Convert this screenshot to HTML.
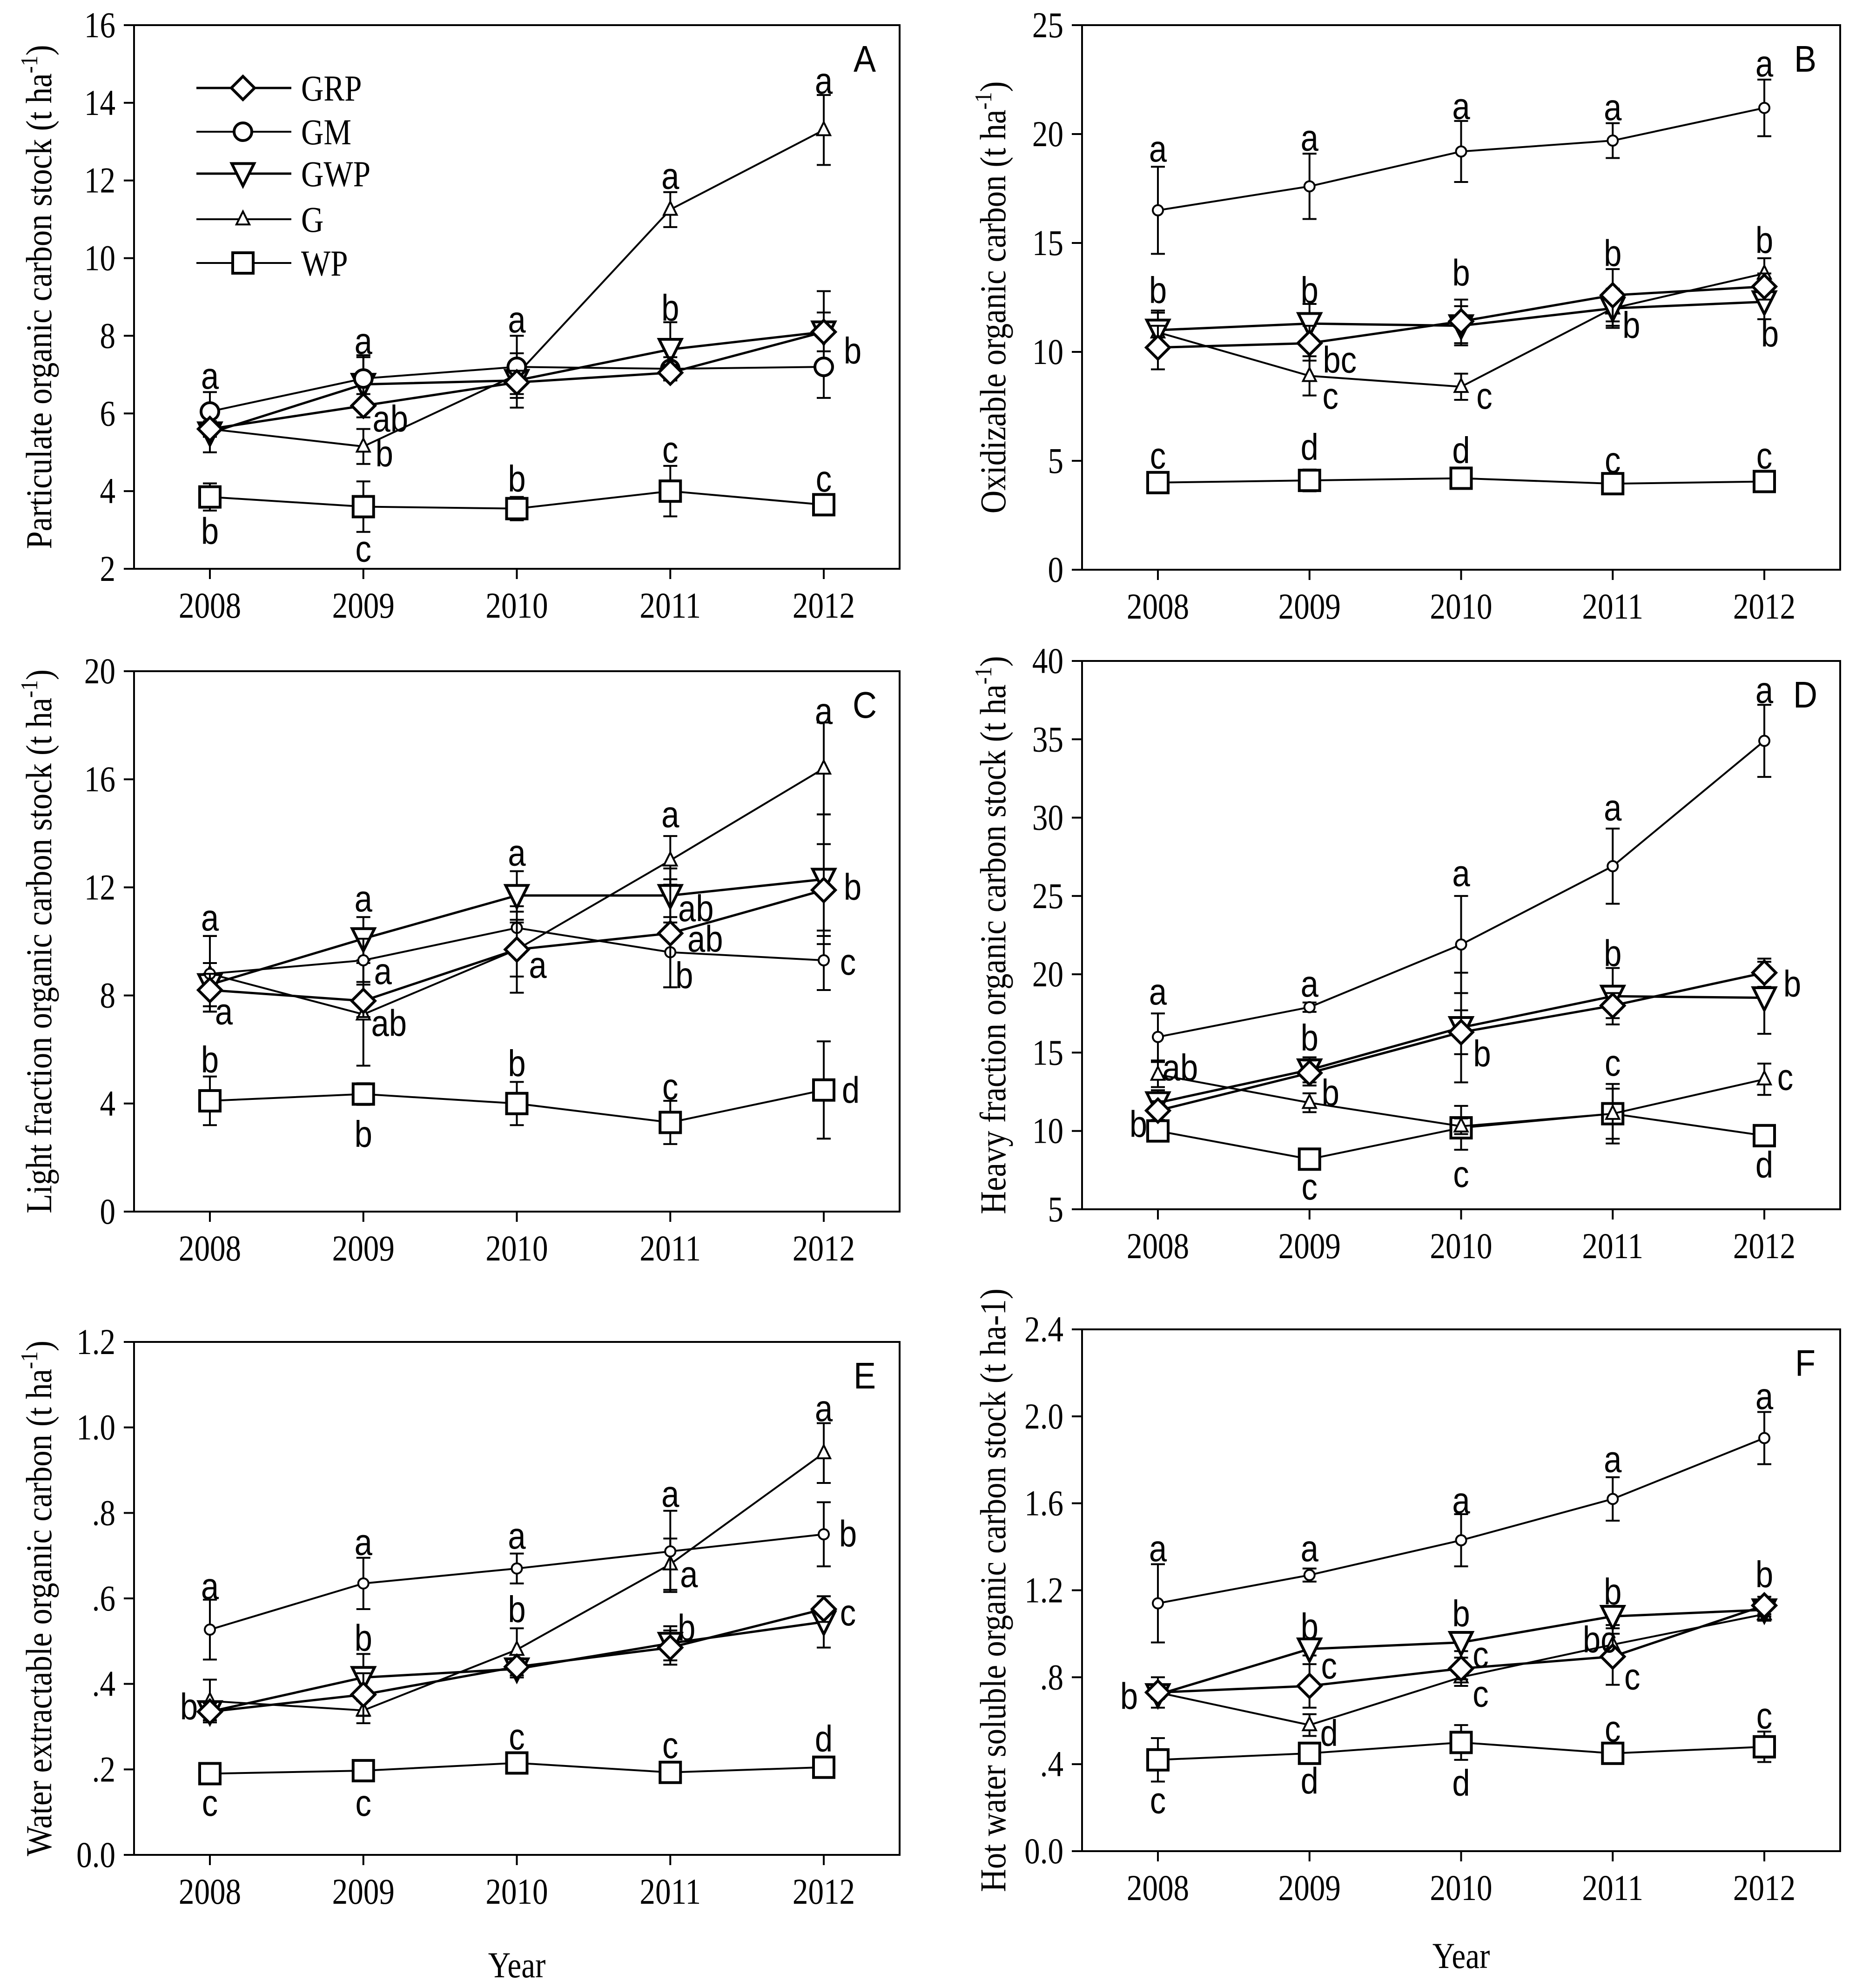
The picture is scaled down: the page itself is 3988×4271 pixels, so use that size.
<!DOCTYPE html>
<html><head><meta charset="utf-8"><style>
html,body{margin:0;padding:0;background:#fff;}
svg{display:block;}
</style></head><body>
<svg id="fig" xmlns="http://www.w3.org/2000/svg" width="3988" height="4271" viewBox="0 0 3988 4271"></svg>
<script>
const years = ["2008","2009","2010","2011","2012"];
const seriesNames = ["GRP","GM","GWP","G","WP"];

// Panel A
const aGRP=[5.6,6.2,6.8,7.05,8.1], aGM=[6.05,6.9,7.2,7.15,7.2], aGWP=[5.5,6.75,6.85,7.65,8.1], aG=[5.6,5.15,7.0,11.25,13.3], aWP=[3.85,3.6,3.55,4.0,3.65];
const aErrGRP=[0.2,0.3,0.3,0.2,0.5], aErrGM=[0.5,0.6,0.8,0.3,0.8], aErrGWP=[0.5,0.7,0.7,0.7,1.05], aErrG=[0.2,0.45,0.3,0.45,0.9], aErrWP=[0.35,0.65,0.3,0.65,0.1];
const aTicks=[2,4,6,8,10,12,14,16];
const aLetters=[[0,6.95,"a",0],[1,7.85,"a",0],[2,8.4,"a",0],[3,12.1,"a",0],[3,8.7,"b",0],[3,5.05,"c",0],[4,14.55,"a",0],[4,4.3,"c",0],[4,7.6,"b",62],[1,5.85,"ab",58],[1,4.95,"b",45],[0,2.95,"b",0],[1,2.5,"c",0],[2,4.3,"b",0]];
// Panel B
const bGRP=[10.2,10.4,11.4,12.6,13.0], bGM=[16.5,17.6,19.2,19.7,21.2], bGWP=[11.0,11.3,11.2,12.0,12.3], bG=[10.9,8.9,8.4,12.0,13.6], bWP=[4.0,4.1,4.2,3.95,4.05];
const bErrGRP=[1.0,0.8,1.0,1.2,0.6], bErrGM=[2.0,1.5,1.4,0.8,1.3], bErrGWP=[0.9,0.9,0.9,0.8,0.8], bErrG=[0.9,0.9,0.6,0.9,0.7], bErrWP=[0.3,0.5,0.3,0.3,0.3];
const bTicks=[0,5,10,15,20,25];
const bLetters=[[0,19.3,"a",0],[1,19.8,"a",0],[2,21.25,"a",0],[3,21.2,"a",0],[4,23.2,"a",0],[0,12.8,"b",0],[1,12.8,"b",0],[2,13.6,"b",0],[3,14.5,"b",0],[4,15.1,"b",0],[1,9.6,"bc",65],[1,7.95,"c",45],[2,7.95,"c",50],[3,11.2,"b",40],[4,10.8,"b",12],[0,5.2,"c",0],[1,5.6,"d",0],[2,5.45,"d",0],[3,5.0,"c",0],[4,5.2,"c",0]];
// Panel C
const cGRP=[8.2,7.8,9.7,10.3,11.9], cGM=[8.8,9.3,10.5,9.6,9.3], cGWP=[8.4,10.1,11.7,11.7,12.3], cG=[8.8,7.3,9.7,13.0,16.4], cWP=[4.1,4.35,4.0,3.3,4.5];
const cErrGRP=[0.6,0.6,1.6,2.0,1.7], cErrGM=[1.4,0.8,0.6,1.3,1.1], cErrGWP=[0.8,0.8,0.9,1.0,2.4], cErrG=[1.4,1.9,1.0,0.9,1.7], cErrWP=[0.9,0.4,0.8,0.8,1.8];
const cTicks=[0,4,8,12,16,20];
const cLetters=[[0,10.85,"a",0],[1,11.56,"a",0],[2,13.26,"a",0],[3,14.68,"a",0],[4,18.5,"a",0],[0,7.38,"a",30],[1,8.87,"a",42],[1,6.95,"ab",55],[2,9.1,"a",45],[3,11.2,"ab",55],[3,10.07,"ab",75],[3,8.72,"b",30],[4,11.99,"b",62],[4,9.22,"c",52],[0,5.6,"b",0],[1,2.84,"b",0],[2,5.46,"b",0],[3,4.6,"c",0],[4,4.47,"d",58]];
// Panel D
const dGRP=[11.3,13.7,16.3,18.0,20.1], dGM=[16.0,17.9,21.9,26.9,34.9], dGWP=[11.8,13.9,16.6,18.6,18.5], dG=[13.6,11.8,10.3,11.1,13.3], dWP=[10.0,8.2,10.2,11.1,9.7];
const dErrGRP=[0.6,0.8,1.4,0.8,0.9], dErrGM=[1.5,0.3,3.1,2.4,2.3], dErrGWP=[0.8,0.8,3.5,1.8,2.3], dErrG=[0.8,0.6,0.5,1.9,1.0], dErrWP=[0.3,0.6,1.4,1.6,0.4];
const dTicks=[5,10,15,20,25,30,35,40];
const dLetters=[[0,18.85,"a",0],[1,19.35,"a",0],[2,26.4,"a",0],[3,30.6,"a",0],[4,38.1,"a",0],[0,14.0,"ab",48],[0,10.4,"b",-42],[1,15.9,"b",0],[1,12.4,"b",45],[2,14.9,"b",45],[3,21.3,"b",0],[3,14.3,"c",0],[4,19.35,"b",60],[4,13.4,"c",45],[4,7.8,"d",0],[1,6.4,"c",0],[2,7.2,"c",0]];
// Panel E
const eGRP=[0.335,0.375,0.44,0.485,0.575], eGM=[0.527,0.635,0.67,0.71,0.75], eGWP=[0.335,0.415,0.435,0.495,0.545], eG=[0.36,0.338,0.48,0.68,0.94], eWP=[0.19,0.197,0.215,0.193,0.205];
const eErrGRP=[0.02,0.05,0.02,0.04,0.03], eErrGM=[0.07,0.06,0.035,0.095,0.075], eErrGWP=[0.02,0.055,0.02,0.04,0.06], eErrG=[0.05,0.03,0.05,0.06,0.07], eErrWP=[0.01,0.01,0.01,0.01,0.01];
const eTicks=[0,0.2,0.4,0.6,0.8,1.0,1.2];
const eTickLabels=["0.0",".2",".4",".6",".8","1.0","1.2"];
const eLetters=[[0,0.627,"a",0],[1,0.73,"a",0],[2,0.745,"a",0],[3,0.843,"a",0],[4,1.043,"a",0],[0,0.345,"b",-45],[1,0.506,"b",0],[2,0.573,"b",0],[3,0.655,"a",40],[3,0.53,"b",35],[4,0.75,"b",52],[4,0.565,"c",52],[2,0.275,"c",0],[3,0.255,"c",0],[4,0.27,"d",0],[0,0.12,"c",0],[1,0.12,"c",0]];
// Panel F
const fGRP=[0.73,0.76,0.84,0.895,1.13], fGM=[1.14,1.27,1.43,1.62,1.90], fGWP=[0.72,0.93,0.96,1.08,1.11], fG=[0.73,0.58,0.80,0.95,1.09], fWP=[0.42,0.45,0.50,0.45,0.48];
const fErrGRP=[0.07,0.1,0.05,0.13,0.04], fErrGM=[0.18,0.03,0.12,0.1,0.12], fErrGWP=[0.02,0.03,0.04,0.04,0.03], fErrG=[0.03,0.05,0.04,0.05,0.03], fErrWP=[0.1,0.03,0.08,0.02,0.07];
const fTicks=[0,0.4,0.8,1.2,1.6,2.0,2.4];
const fTickLabels=["0.0",".4",".8","1.2","1.6","2.0","2.4"];
const fLetters=[[0,1.39,"a",0],[1,1.39,"a",0],[2,1.61,"a",0],[3,1.80,"a",0],[4,2.09,"a",0],[1,1.03,"b",0],[2,1.09,"b",0],[3,1.19,"b",0],[4,1.27,"b",0],[0,0.71,"b",-62],[1,0.85,"c",42],[2,0.90,"c",42],[2,0.72,"c",42],[3,0.97,"bc",-28],[3,0.80,"c",42],[1,0.54,"d",42],[0,0.23,"c",0],[1,0.32,"d",0],[2,0.31,"d",0],[3,0.56,"c",0],[4,0.62,"c",0]];

const NS="http://www.w3.org/2000/svg";
const svg=document.getElementById('fig');
function mk(tag,attrs,parent){const e=document.createElementNS(NS,tag);for(const k in attrs)e.setAttribute(k,attrs[k]);(parent||svg).appendChild(e);return e;}

function marker(g,type,x,y,big){
  let e;
  if(type==="GRP"){const h=25;e=mk('polygon',{points:`${x},${y-h} ${x+h},${y} ${x},${y+h} ${x-h},${y}`,fill:'#fff',stroke:'#000','stroke-width':6},g);}
  else if(type==="GM"){e=mk('circle',{cx:x,cy:y,r:big?19:11,fill:'#fff',stroke:'#000','stroke-width':big?6:4},g);}
  else if(type==="GWP"){const h=24;e=mk('polygon',{points:`${x-h},${y-h*0.9} ${x+h},${y-h*0.9} ${x},${y+h*1.1}`,fill:'#fff',stroke:'#000','stroke-width':6},g);}
  else if(type==="G"){const h=14;e=mk('polygon',{points:`${x-h},${y+h*0.8} ${x+h},${y+h*0.8} ${x},${y-h*1.2}`,fill:'#fff',stroke:'#000','stroke-width':4},g);}
  else {const h=22;e=mk('rect',{x:x-h,y:y-h,width:2*h,height:2*h,fill:'#fff',stroke:'#000','stroke-width':6},g);}
  return e;
}
function txt(parent,x,y,s,size,family,anchor,sx){
  const t=mk('text',{transform:`translate(${x},${y}) scale(${sx||0.86},1)`,'font-size':size,'font-family':family,'text-anchor':anchor||'middle'},parent);
  t.textContent=s;return t;
}
const SERIF='"Liberation Serif", serif', SANS='"Liberation Sans", sans-serif';

function panel(cfg){
  const g=mk('g',{});
  
  
  const {L,R,T,B,min,max}=cfg;
  const yS=v=>B-(v-min)/(max-min)*(B-T);
  const xS=i=>L+163+i*(R-L-326)/4;
  const fr=mk('rect',{x:L,y:T,width:R-L,height:B-T,fill:'none',stroke:'#000','stroke-width':4},g);
  
  
  cfg.ticks.forEach((v,k)=>{
    const y=yS(v);
    mk('line',{x1:L-22,x2:L,y1:y,y2:y,stroke:'#000','stroke-width':4},g);
    const t=txt(g,L-40,y+26,cfg.tickLabels?cfg.tickLabels[k]:String(v),78,SERIF,'end');
    
    
  });
  years.forEach((yr,i)=>{
    const x=xS(i);
    mk('line',{x1:x,x2:x,y1:B,y2:B+22,stroke:'#000','stroke-width':4},g);
    const t=txt(g,x,B+105,yr,78,SERIF,'middle');
    
    
  });
  const tt=mk('text',{transform:`translate(${cfg.titleX},${(T+B)/2}) rotate(-90) scale(0.88,1)`,'font-size':78,'font-family':SERIF,'text-anchor':'middle'},g);
  
  
  tt.appendChild(document.createTextNode(cfg.title));
  if(cfg.sup){const ts=mk('tspan',{dy:-30,'font-size':52},tt);ts.textContent='-1';const t2=mk('tspan',{dy:30},tt);t2.textContent=')';}
  const pl=txt(g,R-75,T+100,cfg.id,80,SANS,'middle',0.9);
  
  
  const order=[["WP",cfg.WP,cfg.eWP],["G",cfg.G,cfg.eG],["GWP",cfg.GWP,cfg.eGWP],["GM",cfg.GM,cfg.eGM],["GRP",cfg.GRP,cfg.eGRP]];
  order.forEach(([name,vals,errs])=>{
    const sg=mk('g',{},g);
    
    
    const pl2=mk('polyline',{points:vals.map((v,i)=>xS(i)+','+yS(v)).join(' '),fill:'none',stroke:'#000','stroke-width':name==="GRP"||name==="GWP"?5:4},sg);
    
    
    vals.forEach((v,i)=>{
      const x=xS(i),y1=yS(v+errs[i]),y2=yS(v-errs[i]);
      mk('line',{x1:x,x2:x,y1:y1,y2:y2,stroke:'#000','stroke-width':4},sg);
      mk('line',{x1:x-15,x2:x+15,y1:y1,y2:y1,stroke:'#000','stroke-width':4},sg);
      mk('line',{x1:x-15,x2:x+15,y1:y2,y2:y2,stroke:'#000','stroke-width':4},sg);
    });
    vals.forEach((v,i)=>{
      const m=marker(sg,name,xS(i),yS(v),name==="GM"&&cfg.bigGM);
      
      
    });
  });
  cfg.letters.forEach(([i,v,s,dx])=>{
    const t=txt(g,xS(i)+dx,yS(v)+26,s,80,SANS,'middle',0.86);
    
    
  });
  if(cfg.xtitle){
    const xt=txt(g,(L+R)/2,cfg.xtitleY,'Year',78,SERIF,'middle');
    
    
  }
  return g;
}

const LC={L:288,R:1933}, RC={L:2325,R:3954};
panel({id:'A',...LC,T:54,B:1222,min:2,max:16,ticks:aTicks,GRP:aGRP,GM:aGM,GWP:aGWP,G:aG,WP:aWP,eGRP:aErrGRP,eGM:aErrGM,eGWP:aErrGWP,eG:aErrG,eWP:aErrWP,letters:aLetters,bigGM:true,title:'Particulate organic carbon stock (t ha',sup:true,titleX:110});
panel({id:'B',...RC,T:54,B:1224,min:0,max:25,ticks:bTicks,GRP:bGRP,GM:bGM,GWP:bGWP,G:bG,WP:bWP,eGRP:bErrGRP,eGM:bErrGM,eGWP:bErrGWP,eG:bErrG,eWP:bErrWP,letters:bLetters,title:'Oxidizable organic carbon (t ha',sup:true,titleX:2160});
panel({id:'C',...LC,T:1442,B:2603,min:0,max:20,ticks:cTicks,GRP:cGRP,GM:cGM,GWP:cGWP,G:cG,WP:cWP,eGRP:cErrGRP,eGM:cErrGM,eGWP:cErrGWP,eG:cErrG,eWP:cErrWP,letters:cLetters,title:'Light fraction organic carbon stock (t ha',sup:true,titleX:110});
panel({id:'D',...RC,T:1420,B:2598,min:5,max:40,ticks:dTicks,GRP:dGRP,GM:dGM,GWP:dGWP,G:dG,WP:dWP,eGRP:dErrGRP,eGM:dErrGM,eGWP:dErrGWP,eG:dErrG,eWP:dErrWP,letters:dLetters,title:'Heavy fraction organic carbon stock (t ha',sup:true,titleX:2160});
panel({id:'E',...LC,T:2883,B:3985,min:0,max:1.2,ticks:eTicks,tickLabels:eTickLabels,GRP:eGRP,GM:eGM,GWP:eGWP,G:eG,WP:eWP,eGRP:eErrGRP,eGM:eErrGM,eGWP:eErrGWP,eG:eErrG,eWP:eErrWP,letters:eLetters,title:'Water extractable organic carbon (t ha',sup:true,titleX:110,xtitle:true,xtitleY:4248});
panel({id:'F',...RC,T:2856,B:3977,min:0,max:2.4,ticks:fTicks,tickLabels:fTickLabels,GRP:fGRP,GM:fGM,GWP:fGWP,G:fG,WP:fWP,eGRP:fErrGRP,eGM:fErrGM,eGWP:fErrGWP,eG:fErrG,eWP:fErrWP,letters:fLetters,title:'Hot water soluble organic carbon stock (t ha-1)',sup:false,titleX:2160,xtitle:true,xtitleY:4228});

const lg=mk('g',{});


const legendRows=[189,283,373,471,565];
seriesNames.forEach((n,k)=>{
  const eg=mk('g',{},lg);
  
  
  const y=legendRows[k];
  mk('line',{x1:422,x2:626,y1:y,y2:y,stroke:'#000','stroke-width':n==="GRP"||n==="GWP"?5:4},eg);
  marker(eg,n,522,y,true);
  txt(eg,647,y+27,n,78,SERIF,'start');
});
</script>
</body></html>
